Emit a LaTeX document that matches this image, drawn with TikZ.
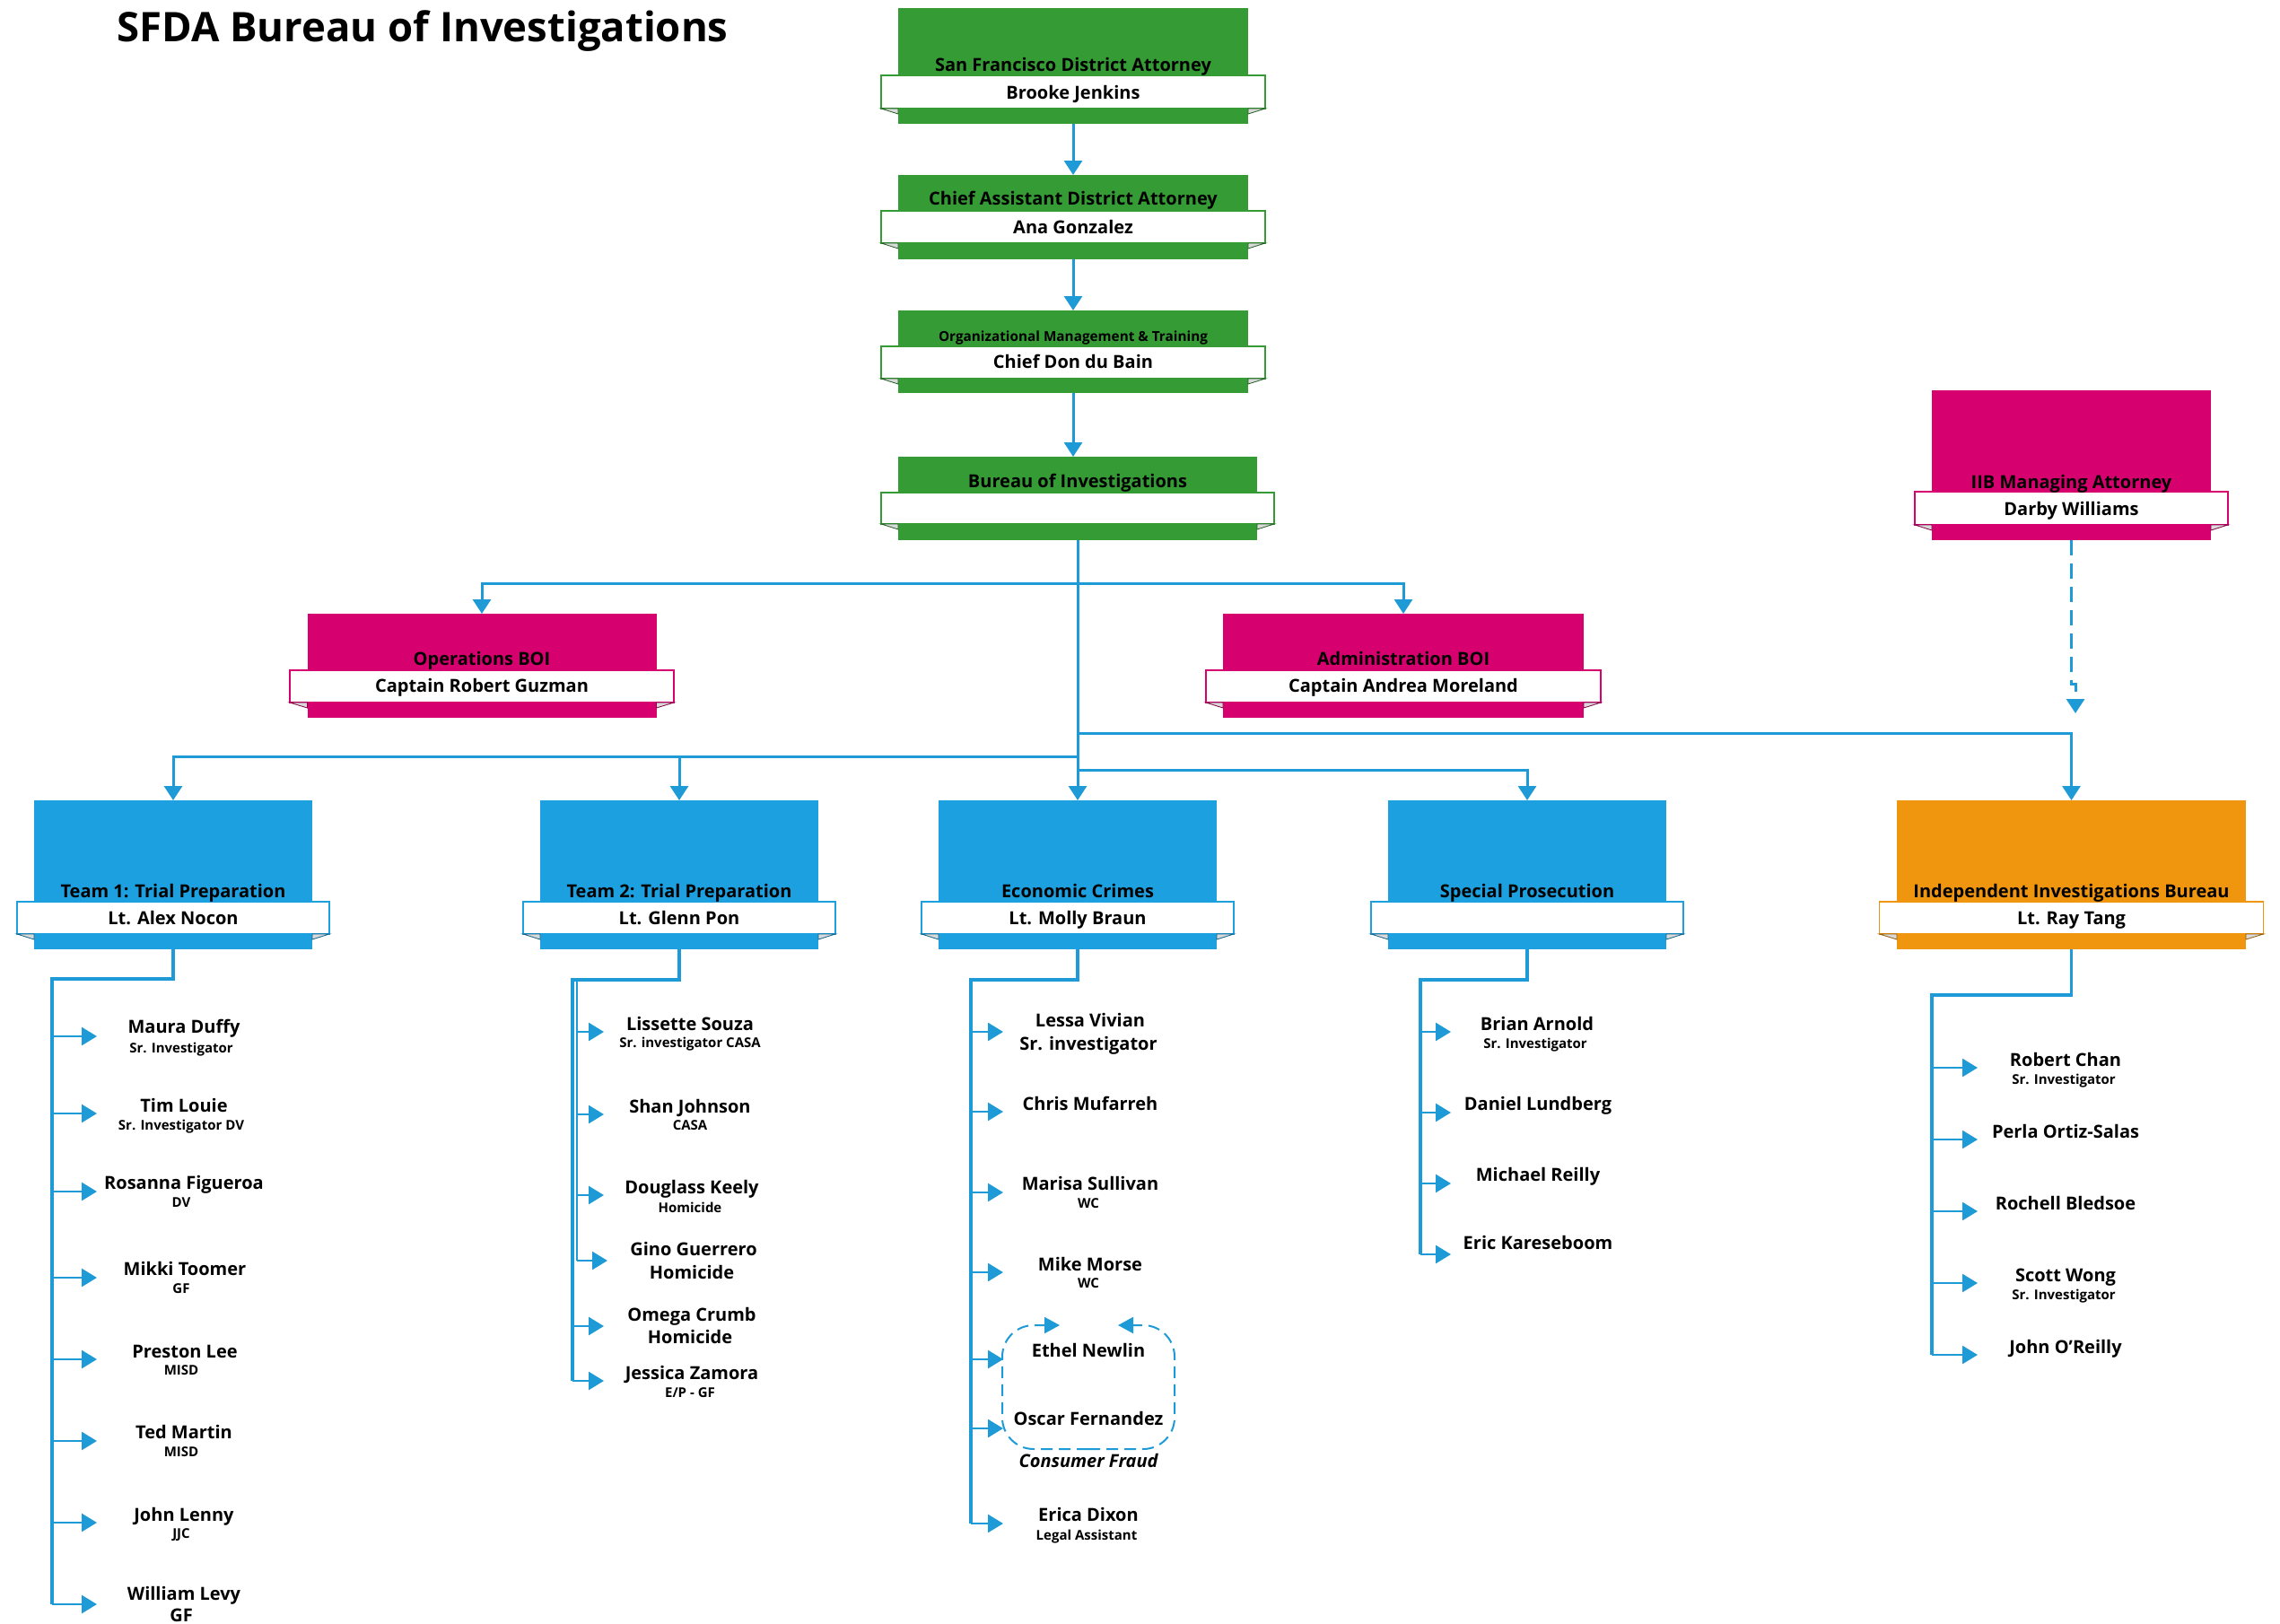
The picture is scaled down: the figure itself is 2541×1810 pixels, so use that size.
\documentclass[tikz,border=0pt]{standalone}
\usepackage{fontspec}
\setmainfont{Open Sans}
\usetikzlibrary{arrows.meta,calc}
\definecolor{cgreen}{RGB}{53,155,53}
\definecolor{cmag}{RGB}{214,0,111}
\definecolor{cblue}{RGB}{29,160,223}
\definecolor{corange}{RGB}{240,150,14}
\definecolor{cline}{RGB}{30,155,215}
\tikzset{
 ubox/.style={inner sep=0, outer sep=0, draw=none},
 uband/.style={inner sep=0, outer sep=0, fill=white, line width=1.5pt},
 fold/.style={fill=gray!30, line width=0.8pt},
 ttl/.style={anchor=base, inner sep=0, font=\fontsize{20}{24}\selectfont\bfseries},
 nm/.style={anchor=base, inner sep=0, font=\fontsize{20}{24}\selectfont\bfseries},
 sb/.style={anchor=base, inner sep=0, font=\fontsize{15}{18}\selectfont\bfseries},
 conn/.style={draw=cline, line width=3pt, -{Triangle[length=16pt,width=20pt]}},
 trunk/.style={draw=cline, line width=3.2pt},
 sarr/.style={draw=cline, line width=2.6pt, -{Triangle[length=17pt,width=20pt]}},
 dconn/.style={conn, dash pattern=on 17pt off 9pt},
 cfd/.style={draw=cline, line width=2pt, dash pattern=on 13pt off 7pt, -{Triangle[length=17pt,width=18pt]}, rounded corners=35pt},
}
\newcommand\mkunit[9]{%
  \node[ubox, fill=#2, minimum width=#4, minimum height={#6-#5}] (#1) at (#3,{(#5+#6)/2}) {};
  \node[uband, draw=#2, minimum width=#7, minimum height={#9-#8}] (#1b) at (#3,{(#8+#9)/2}) {};
  \filldraw[fold, draw=#2!60!black] (#1b.south west) -- (#1b.south west -| #1.west) -- ($(#1b.south west -| #1.west)+(0,6)$) -- cycle;
  \filldraw[fold, draw=#2!60!black] (#1b.south east) -- (#1b.south east -| #1.east) -- ($(#1b.south east -| #1.east)+(0,6)$) -- cycle;
}
\begin{document}
\begin{tikzpicture}[x=1pt,y=-1pt]
\fill[white] (0,0) rectangle (2541,1810);
\useasboundingbox (0,0) rectangle (2541,1810);

\node[anchor=base west, inner sep=0, font=\fontsize{45.5}{52}\selectfont\bfseries] (title) at (130,46) {SFDA Bureau of Investigations};

% units
\mkunit{sfda}{cgreen}{1196}{390}{9}{138}{428}{84}{121}
\mkunit{cada}{cgreen}{1196}{390}{195}{289}{428}{235}{271}
\mkunit{omt}{cgreen}{1196}{390}{346}{438}{428}{386}{422}
\mkunit{boi}{cgreen}{1201}{400}{509}{602}{438}{549}{584}
\mkunit{ops}{cmag}{537}{389}{684}{800}{428}{747}{783}
\mkunit{admin}{cmag}{1564}{402}{684}{800}{440}{747}{783}
\mkunit{iib}{cmag}{2308.5}{311}{435}{602}{349}{548}{585}
\mkunit{team1}{cblue}{193}{310}{892}{1058}{348}{1005}{1041}
\mkunit{team2}{cblue}{757}{310}{892}{1058}{348}{1005}{1041}
\mkunit{econ}{cblue}{1201}{310}{892}{1058}{348}{1005}{1041}
\mkunit{spec}{cblue}{1702}{310}{892}{1058}{348}{1005}{1041}
\mkunit{indep}{corange}{2308.5}{389}{892}{1058}{428}{1005}{1041}

% unit texts
\node[ttl] (sfdaT) at (1196,79) {San Francisco District Attorney};
\node[ttl] (sfdaN) at (1196,110) {Brooke Jenkins};
\node[ttl] (cadaT) at (1196,228) {Chief Assistant District Attorney};
\node[ttl] (cadaN) at (1196,260) {Ana Gonzalez};
\node[ttl, font=\fontsize{15.3}{18}\selectfont\bfseries] (omtT) at (1196,380) {Organizational Management \& Training};
\node[ttl] (omtN) at (1196,410) {Chief Don du Bain};
\node[ttl] (boiT) at (1201,543) {Bureau of Investigations};
\node[ttl] (opsT) at (537,741) {Operations BOI};
\node[ttl] (opsN) at (537,771) {Captain Robert Guzman};
\node[ttl] (adminT) at (1564,741) {Administration BOI};
\node[ttl] (adminN) at (1564,771) {Captain Andrea Moreland};
\node[ttl] (iibT) at (2308.5,544) {IIB Managing Attorney};
\node[ttl] (iibN) at (2308.5,574) {Darby Williams};
\node[ttl] (team1T) at (193,1000) {Team 1: Trial Preparation};
\node[ttl] (team1N) at (193,1030) {Lt. Alex Nocon};
\node[ttl] (team2T) at (757,1000) {Team 2: Trial Preparation};
\node[ttl] (team2N) at (757,1030) {Lt. Glenn Pon};
\node[ttl] (econT) at (1201,1000) {Economic Crimes};
\node[ttl] (econN) at (1201,1030) {Lt. Molly Braun};
\node[ttl] (specT) at (1702,1000) {Special Prosecution};
\node[ttl] (indepT) at (2308.5,1000) {Independent Investigations Bureau};
\node[ttl] (indepN) at (2308.5,1030) {Lt. Ray Tang};

% top chain
\draw[conn] (sfda.south) -- (cada.north);
\draw[conn] (cada.south) -- (omt.north);
\draw[conn] (omt.south) -- (omt.south |- boi.north);

% BOI branches
\coordinate (h1) at (1201,650);
\coordinate (h2) at (1201,817);
\coordinate (h3) at (1201,843);
\coordinate (h4) at (1201,858);
\draw[conn] (boi.south) -- (econ.north);
\draw[conn] (h1) -| (ops.north);
\draw[conn] (h1) -| (admin.north);
\draw[conn] (h2) -| (indep.north);
\draw[conn] (h3) -| (team1.north);
\draw[conn] (h3) -| (team2.north);
\draw[conn] (h4) -| (spec.north);

% IIB managing dashed
\coordinate (iibJ) at (2308.5,762);
\coordinate (iibE) at (2313,795);
\draw[dconn] (iib.south) -- (iibJ) -| (iibE);

% Team 1 list
\coordinate (t1k) at (58,1091);
\foreach \y [count=\i] in {1155,1241,1328,1424,1515,1606,1697,1788} {
  \coordinate (ta\i) at (108,\y);
  \draw[sarr] (t1k |- ta\i) -- (ta\i);
}
\draw[trunk] (team1.south) |- (t1k) -- (t1k |- ta8);
\node[nm] (p1a) at (205,1151) {Maura Duffy};
\node[sb] (p1as) at (202,1173) {Sr. Investigator};
\node[nm] (p1b) at (205,1239) {Tim Louie};
\node[sb] (p1bs) at (202,1259) {Sr. Investigator DV};
\node[nm] (p1c) at (205,1325) {Rosanna Figueroa};
\node[sb] (p1cs) at (202,1345) {DV};
\node[nm] (p1d) at (206,1421) {Mikki Toomer};
\node[sb] (p1ds) at (202,1441) {GF};
\node[nm] (p1e) at (206,1513) {Preston Lee};
\node[sb] (p1es) at (202,1532) {MISD};
\node[nm] (p1f) at (205,1603) {Ted Martin};
\node[sb] (p1fs) at (202,1623) {MISD};
\node[nm] (p1g) at (205,1695) {John Lenny};
\node[sb] (p1gs) at (202,1714) {JJC};
\node[nm] (p1h) at (205,1783) {William Levy};
\node[nm] (p1hs) at (202,1807) {GF};

% Team 2 list
\coordinate (t2k) at (638,1092);
\coordinate (t2m) at (643,1092);
\foreach \y/\x [count=\i] in {1150/673,1242/673,1332/673,1405/677} {
  \coordinate (tb\i) at (\x,\y);
  \draw[sarr] (t2m |- tb\i) -- (tb\i);
}
\foreach \y [count=\i from 5] in {1478,1539} {
  \coordinate (tb\i) at (673,\y);
  \draw[sarr] (t2k |- tb\i) -- (tb\i);
}
\draw[trunk] (team2.south) |- (t2k) -- (t2k |- tb6);
\draw[trunk, line width=2.5pt] (t2m) -- (t2m |- tb4);
\node[nm] (p2a) at (769,1148) {Lissette Souza};
\node[sb] (p2as) at (769,1167) {Sr. investigator CASA};
\node[nm] (p2b) at (769,1240) {Shan Johnson};
\node[sb] (p2bs) at (769,1259) {CASA};
\node[nm] (p2c) at (771,1330) {Douglass Keely};
\node[sb] (p2cs) at (769,1351) {Homicide};
\node[nm] (p2d) at (773,1399) {Gino Guerrero};
\node[nm] (p2ds) at (771,1425) {Homicide};
\node[nm] (p2e) at (771,1472) {Omega Crumb};
\node[nm] (p2es) at (769,1497) {Homicide};
\node[nm] (p2f) at (771,1537) {Jessica Zamora};
\node[sb] (p2fs) at (769,1557) {E/P - GF};

% Economic crimes list
\coordinate (t3k) at (1082,1092);
\foreach \y [count=\i] in {1150,1239,1329,1418,1515,1592,1698} {
  \coordinate (tc\i) at (1118,\y);
  \draw[sarr] (t3k |- tc\i) -- (tc\i);
}
\draw[trunk] (econ.south) |- (t3k) -- (t3k |- tc7);
\node[nm] (p3a) at (1215,1144) {Lessa Vivian};
\node[nm] (p3as) at (1213,1170) {Sr. investigator};
\node[nm] (p3b) at (1215,1237) {Chris Mufarreh};
\node[nm] (p3c) at (1215,1326) {Marisa Sullivan};
\node[sb] (p3cs) at (1213,1346) {WC};
\node[nm] (p3d) at (1215,1416) {Mike Morse};
\node[sb] (p3ds) at (1213,1435) {WC};
\node[nm] (p3e) at (1213,1512) {Ethel Newlin};
\node[nm] (p3f) at (1213,1588) {Oscar Fernandez};
\node[nm, font=\fontsize{20}{24}\selectfont\bfseries\itshape] (p3g) at (1213,1635) {Consumer Fraud};
\node[nm] (p3h) at (1213,1695) {Erica Dixon};
\node[sb] (p3hs) at (1211,1716) {Legal Assistant};
% consumer fraud dashed frame
\coordinate (cfBM) at (1213,1615);
\coordinate (cfBL) at (1117,1615);
\coordinate (cfTL) at (1117,1477);
\coordinate (cfAL) at (1181,1477);
\coordinate (cfBR) at (1309,1615);
\coordinate (cfTR) at (1309,1477);
\coordinate (cfAR) at (1246,1477);
\draw[cfd] (cfBM) -- (cfBL) -- (cfTL) -- (cfAL);
\draw[cfd] (cfBM) -- (cfBR) -- (cfTR) -- (cfAR);

% Special prosecution list
\coordinate (t4k) at (1583,1092);
\foreach \y [count=\i] in {1150,1240,1319,1398} {
  \coordinate (td\i) at (1617,\y);
  \draw[sarr] (t4k |- td\i) -- (td\i);
}
\draw[trunk] (spec.south) |- (t4k) -- (t4k |- td4);
\node[nm] (p4a) at (1713,1148) {Brian Arnold};
\node[sb] (p4as) at (1711,1168) {Sr. Investigator};
\node[nm] (p4b) at (1714,1237) {Daniel Lundberg};
\node[nm] (p4c) at (1714,1316) {Michael Reilly};
\node[nm] (p4d) at (1714,1392) {Eric Kareseboom};

% Independent investigations list
\coordinate (t5k) at (2153,1109);
\foreach \y [count=\i] in {1190,1270,1350,1430,1510} {
  \coordinate (te\i) at (2204,\y);
  \draw[sarr] (t5k |- te\i) -- (te\i);
}
\draw[trunk] (indep.south) |- (t5k) -- (t5k |- te5);
\node[nm] (p5a) at (2302,1188) {Robert Chan};
\node[sb] (p5as) at (2300,1208) {Sr. Investigator};
\node[nm] (p5b) at (2302,1268) {Perla Ortiz-Salas};
\node[nm] (p5c) at (2302,1348) {Rochell Bledsoe};
\node[nm] (p5d) at (2302,1428) {Scott Wong};
\node[sb] (p5ds) at (2300,1448) {Sr. Investigator};
\node[nm] (p5e) at (2302,1508) {John O'Reilly};
\end{tikzpicture}
\end{document}
